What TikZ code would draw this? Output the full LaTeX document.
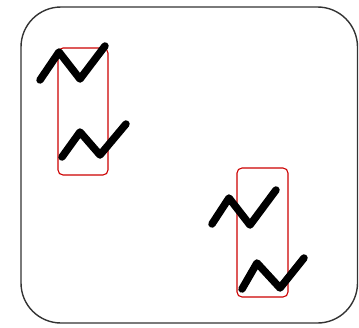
\documentclass[tikz,border=0pt]{standalone}
\usepackage{tikz}
\usetikzlibrary{positioning}

\begin{document}
\begin{tikzpicture}[
    x=1pt, y=-1pt,
    frame/.style={draw=black!80, line width=1.4pt, rounded corners=40pt},
    zigzag/.style={line width=7.5pt, line cap=round, line join=round},
    redbox/.style={draw=red!80!black, line width=1.1pt, rounded corners=5pt}
]
    \useasboundingbox (0,0) rectangle (359,327);
    \draw[frame] (21,7) rectangle (357.5,323);

    % left group
    \draw[redbox] (58,48) rectangle (108,175);
    \draw[zigzag] (40,80) -- (59,52) -- (80,79) -- (105,46);
    \draw[zigzag] (62,157) -- (80,132) -- (100,155) -- (126,124);

    % right group
    \draw[redbox] (237,168) rectangle (288,297);
    \draw[zigzag] (212,224) -- (229,198) -- (250,225) -- (276,190);
    \draw[zigzag] (242,289) -- (257,263) -- (280,288) -- (304,258);
\end{tikzpicture}
\end{document}
